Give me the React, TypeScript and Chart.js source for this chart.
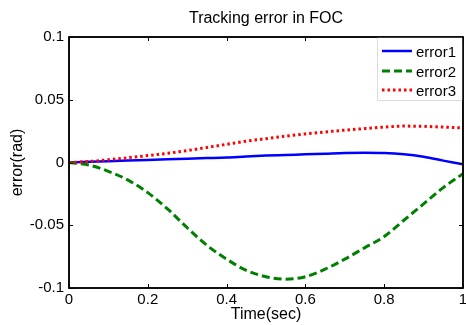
import React, { useEffect, useRef } from "react";
import { Chart, registerables } from "chart.js";

Chart.register(...registerables);

const timeSec = [0, 0.05, 0.1, 0.15, 0.2, 0.25, 0.3, 0.35, 0.4, 0.45, 0.5, 0.55, 0.6, 0.65, 0.7, 0.75, 0.8, 0.85, 0.9, 0.95, 1.0];
const error1 = [0, 0.0005, 0.001, 0.0015, 0.002, 0.0025, 0.003, 0.0035, 0.004, 0.0048, 0.0055, 0.006, 0.0065, 0.007, 0.0075, 0.0077, 0.0075, 0.0065, 0.0045, 0.0015, -0.0015];
const error2 = [0, -0.002, -0.007, -0.014, -0.024, -0.037, -0.052, -0.066, -0.077, -0.086, -0.091, -0.093, -0.091, -0.085, -0.077, -0.068, -0.059, -0.046, -0.033, -0.02, -0.009];
const error3 = [0, 0.0008, 0.0022, 0.0038, 0.0055, 0.0073, 0.0095, 0.012, 0.0145, 0.017, 0.019, 0.021, 0.0228, 0.0243, 0.0258, 0.027, 0.0282, 0.029, 0.0288, 0.0282, 0.0275];

const xTicks = [0, 0.2, 0.4, 0.6, 0.8, 1];
const xTickLabels = ["0", "0.2", "0.4", "0.6", "0.8", "1"];
const yTicks = [0.1, 0.05, 0, -0.05, -0.1];
const yTickLabels = ["0.1", "0.05", "0", "-0.05", "-0.1"];

const titleText = "Tracking error in FOC";
const xTitle = "Time(sec)";
const yTitle = "error(rad)";

const FAMILY = "'Liberation Sans', Arial, sans-serif";
const TICK_FONT = "15px " + FAMILY;
const TITLE_FONT = "16px " + FAMILY;

const series = [
  { label: "error1", data: error1, color: "#0000ff", dash: [] as number[], width: 2.5 },
  { label: "error2", data: error2, color: "#008000", dash: [8, 4], width: 3 },
  { label: "error3", data: error3, color: "#ff0000", dash: [2.5, 3], width: 3 },
];

const framePlugin = {
  id: "matlabFrame",
  afterDatasetsDraw(chart: any) {
    const { ctx, chartArea: a, scales } = chart;
    const xs = scales.x;
    const ys = scales.y;
    ctx.save();
    ctx.strokeStyle = "#000";
    ctx.lineWidth = 1.5;
    ctx.setLineDash([]);
    ctx.strokeRect(a.left, a.top, a.right - a.left, a.bottom - a.top);
    ctx.lineWidth = 1;
    const tl = 4;
    xTicks.forEach((v) => {
      const px = Math.round(xs.getPixelForValue(v)) + 0.5;
      ctx.beginPath();
      ctx.moveTo(px, a.bottom);
      ctx.lineTo(px, a.bottom - tl);
      ctx.moveTo(px, a.top);
      ctx.lineTo(px, a.top + tl);
      ctx.stroke();
    });
    yTicks.forEach((v) => {
      const py = Math.round(ys.getPixelForValue(v)) + 0.5;
      ctx.beginPath();
      ctx.moveTo(a.left, py);
      ctx.lineTo(a.left + tl, py);
      ctx.moveTo(a.right, py);
      ctx.lineTo(a.right - tl, py);
      ctx.stroke();
    });
    ctx.fillStyle = "#000";
    ctx.font = TICK_FONT;
    ctx.textAlign = "center";
    ctx.textBaseline = "middle";
    xTicks.forEach((v, i) => {
      ctx.fillText(xTickLabels[i], xs.getPixelForValue(v), a.bottom + 12);
    });
    ctx.textAlign = "right";
    yTicks.forEach((v, i) => {
      ctx.fillText(yTickLabels[i], a.left - 5, ys.getPixelForValue(v));
    });
    ctx.font = TITLE_FONT;
    ctx.textAlign = "center";
    const cx = (a.left + a.right) / 2;
    ctx.fillText(titleText, cx, 19);
    ctx.fillText(xTitle, cx, 315);
    ctx.save();
    ctx.translate(18, (a.top + a.bottom) / 2);
    ctx.rotate(-Math.PI / 2);
    ctx.fillText(yTitle, 0, 0);
    ctx.restore();
    // legend
    const lx = 377;
    const lw = a.right - lx;
    const lh = 63;
    ctx.fillStyle = "#fff";
    ctx.fillRect(lx, a.top + 1, lw - 1, lh);
    ctx.strokeStyle = "#dcdcdc";
    ctx.lineWidth = 1;
    ctx.strokeRect(lx + 0.5, a.top + 0.5, lw - 1, lh);
    const rows = [51, 71, 90];
    ctx.font = TICK_FONT;
    series.forEach((s, i) => {
      ctx.strokeStyle = s.color;
      ctx.lineWidth = s.width;
      ctx.setLineDash(s.dash);
      ctx.beginPath();
      ctx.moveTo(382, rows[i]);
      ctx.lineTo(412, rows[i]);
      ctx.stroke();
      ctx.setLineDash([]);
      ctx.fillStyle = "#000";
      ctx.textAlign = "left";
      ctx.textBaseline = "middle";
      ctx.fillText(s.label, 416, rows[i] + 2);
    });
    ctx.strokeStyle = "#000";
    ctx.lineWidth = 1.5;
    ctx.strokeRect(a.left, a.top, a.right - a.left, a.bottom - a.top);
    ctx.restore();
  },
};

export default function App() {
  const ref = useRef<HTMLCanvasElement | null>(null);
  useEffect(() => {
    document.body.style.margin = "0";
    const canvas = ref.current!;
    const chart = new Chart(canvas, {
      type: "line",
      data: {
        datasets: series.map((s, i) => ({
          label: s.label,
          data: timeSec.map((t, j) => ({ x: t, y: s.data[j] })),
          borderColor: s.color,
          borderWidth: s.width,
          borderDash: s.dash,
          pointRadius: 0,
          fill: false,
          tension: 0.4,
          cubicInterpolationMode: "monotone" as const,
          order: 2 - i,
        })),
      },
      options: {
        animation: false,
        responsive: false,
        maintainAspectRatio: false,
        layout: { padding: { left: 69, right: 3, top: 37, bottom: 37 } },
        plugins: { legend: { display: false }, title: { display: false }, tooltip: { enabled: false } },
        scales: {
          x: { type: "linear", min: 0, max: 1, display: false },
          y: { type: "linear", min: -0.1, max: 0.1, display: false },
        },
      },
      plugins: [framePlugin],
    });
    return () => chart.destroy();
  }, []);
  return <canvas ref={ref} width={466} height={325} style={{ display: "block", background: "#fff" }} />;
}
